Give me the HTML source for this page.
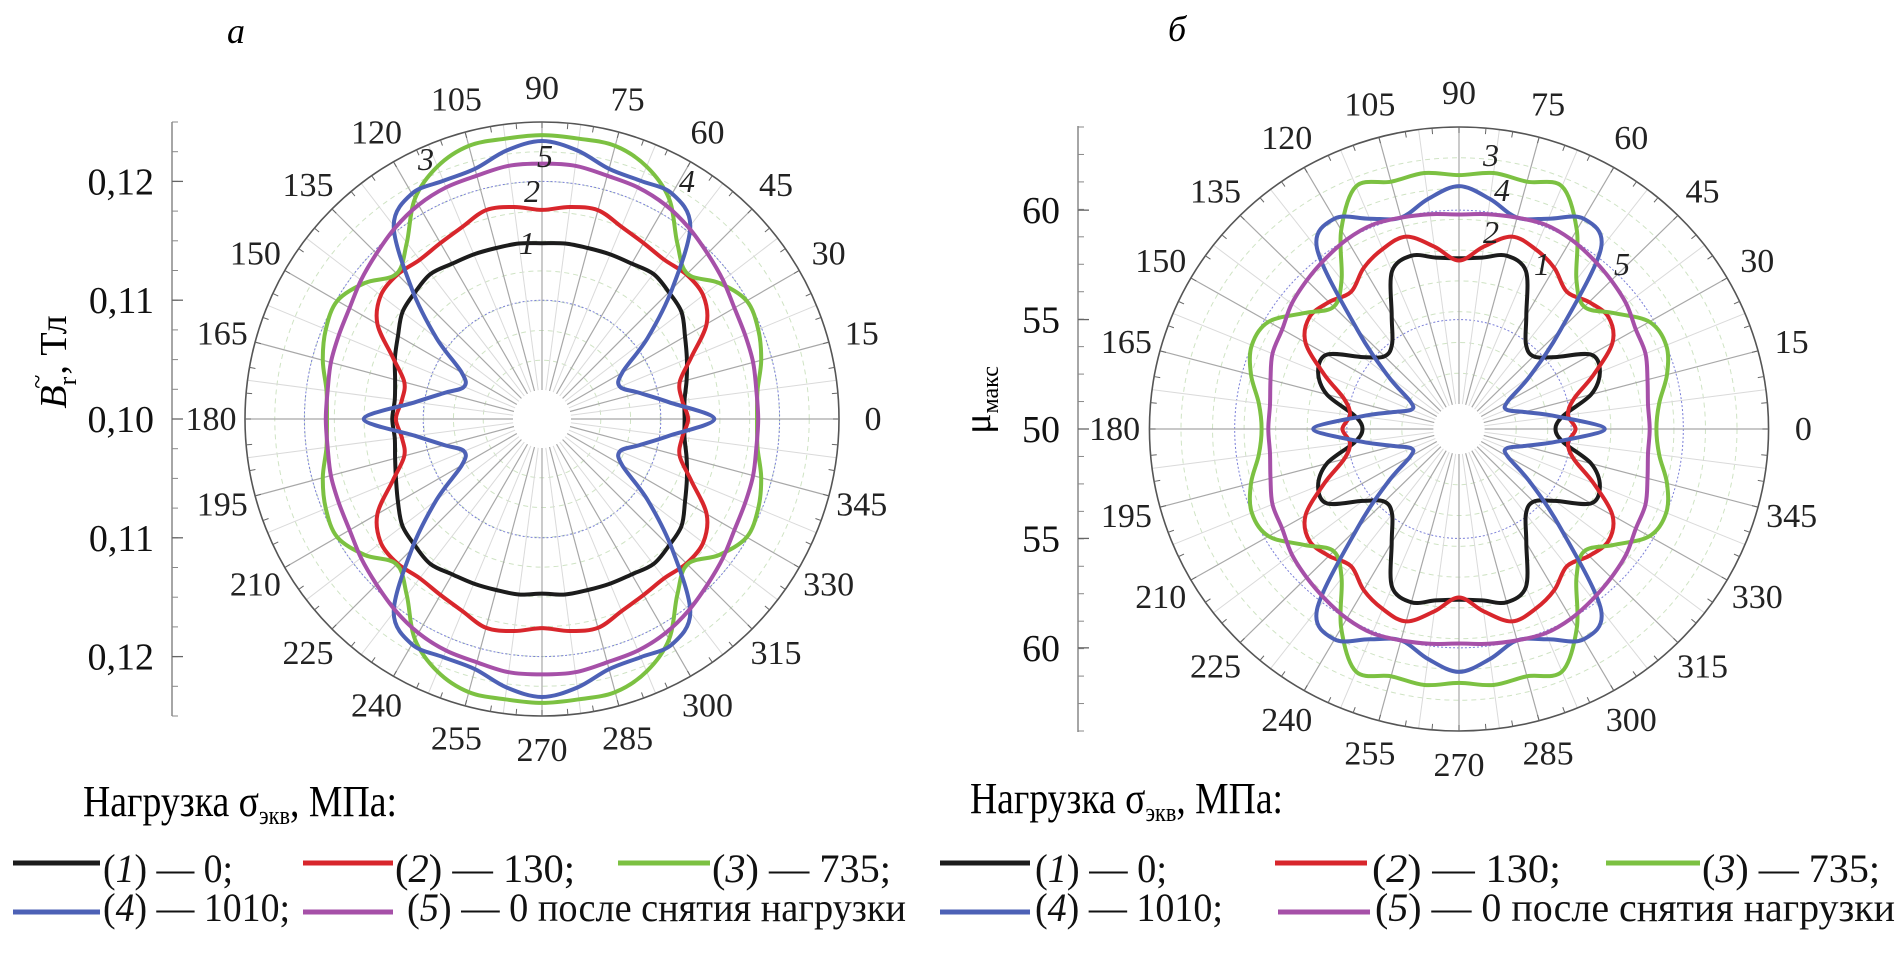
<!DOCTYPE html>
<html><head><meta charset="utf-8"><style>
html,body{margin:0;padding:0;background:#fff;}
svg{display:block;font-family:"Liberation Serif","DejaVu Serif",serif;}
svg text{font-family:"Liberation Serif","DejaVu Serif",serif;}
</style></head><body>
<svg id="fig" width="1898" height="971" viewBox="0 0 1898 971" xmlns="http://www.w3.org/2000/svg" font-family="Liberation Serif, serif">
<text x="236" y="43" font-size="36" font-style="italic" text-anchor="middle">а</text>
<text x="1177" y="41" font-size="36" font-style="italic" text-anchor="middle">б</text>
<g id="chartA"></g>
<g id="chartB"></g>
<text transform="translate(66,362) rotate(-90)" font-size="38" text-anchor="middle"><tspan font-style="italic">B</tspan><tspan font-size="26" dy="10">r</tspan><tspan font-size="26" dx="-12" dy="-30">~</tspan><tspan dy="20">, Тл</tspan></text>
<text transform="translate(990,400) rotate(-90)" font-size="38" text-anchor="middle">μ<tspan font-size="24" dy="8">макс</tspan></text>
<g id="legend">
<text x="83" y="816" font-size="44" textLength="314" lengthAdjust="spacingAndGlyphs">Нагрузка σ<tspan font-size="26" dy="8">экв</tspan><tspan dy="-8">, МПа:</tspan></text>
<text x="970" y="813" font-size="44" textLength="313" lengthAdjust="spacingAndGlyphs">Нагрузка σ<tspan font-size="26" dy="8">экв</tspan><tspan dy="-8">, МПа:</tspan></text>
</g>
</svg>
<script>
// ---- data ----
const anglesDeg = [0,7.5,15,22.5,30,37.5,45,52.5,60,67.5,75,82.5,90,97.5,105,112.5,120,127.5,135,142.5,150,157.5,165,172.5,180,187.5,195,202.5,210,217.5,225,232.5,240,247.5,255,262.5,270,277.5,285,292.5,300,307.5,315,322.5,330,337.5,345,352.5];
const angleLabels = [0,15,30,45,60,75,90,105,120,135,150,165,180,195,210,225,240,255,270,285,300,315,330,345];
// panel a: B_r, Тл
const a1 = [0.1120,0.1121,0.1126,0.1132,0.1139,0.1148,0.1151,0.1154,0.1151,0.1150,0.1149,0.1149,0.1148,0.1149,0.1149,0.1150,0.1151,0.1154,0.1151,0.1148,0.1140,0.1134,0.1128,0.1125,0.1126,0.1125,0.1128,0.1133,0.1140,0.1148,0.1151,0.1154,0.1151,0.1150,0.1149,0.1149,0.1147,0.1149,0.1149,0.1150,0.1151,0.1154,0.1151,0.1148,0.1139,0.1132,0.1126,0.1121];
const a2 = [0.1123,0.1119,0.1120,0.1136,0.1160,0.1171,0.1172,0.1169,0.1171,0.1175,0.1182,0.1180,0.1176,0.1180,0.1182,0.1175,0.1171,0.1169,0.1172,0.1171,0.1160,0.1136,0.1120,0.1119,0.1123,0.1119,0.1120,0.1136,0.1160,0.1171,0.1172,0.1169,0.1171,0.1175,0.1182,0.1180,0.1176,0.1180,0.1182,0.1175,0.1171,0.1169,0.1172,0.1171,0.1160,0.1136,0.1120,0.1119];
const a3 = [0.1181,0.1183,0.1191,0.1197,0.1199,0.1188,0.1173,0.1187,0.1214,0.1230,0.1238,0.1238,0.1239,0.1238,0.1238,0.1230,0.1214,0.1187,0.1173,0.1188,0.1199,0.1197,0.1191,0.1183,0.1181,0.1183,0.1191,0.1197,0.1199,0.1188,0.1173,0.1187,0.1214,0.1230,0.1238,0.1238,0.1239,0.1238,0.1238,0.1230,0.1214,0.1187,0.1173,0.1188,0.1199,0.1197,0.1191,0.1183];
const a4 = [0.1145,0.1108,0.1085,0.1071,0.1078,0.1112,0.1155,0.1205,0.1219,0.1217,0.1218,0.1228,0.1234,0.1228,0.1218,0.1217,0.1219,0.1205,0.1155,0.1112,0.1078,0.1071,0.1085,0.1108,0.1150,0.1108,0.1085,0.1071,0.1078,0.1112,0.1155,0.1205,0.1219,0.1217,0.1218,0.1228,0.1234,0.1228,0.1218,0.1217,0.1219,0.1205,0.1155,0.1112,0.1078,0.1071,0.1085,0.1108];
const a5 = [0.1182,0.1182,0.1184,0.1185,0.1187,0.1192,0.1197,0.1203,0.1208,0.1211,0.1212,0.1215,0.1215,0.1215,0.1212,0.1211,0.1208,0.1203,0.1197,0.1192,0.1187,0.1185,0.1184,0.1182,0.1182,0.1182,0.1184,0.1185,0.1187,0.1192,0.1197,0.1203,0.1208,0.1211,0.1212,0.1215,0.1215,0.1215,0.1212,0.1211,0.1208,0.1203,0.1197,0.1192,0.1187,0.1185,0.1184,0.1182];
const aTickValues = [0.12,0.11,0.10,0.11,0.12];
const aTickSide = [1,1,0,-1,-1];
const aTickLabels = ["0,12","0,11","0,10","0,11","0,12"];
// panel b: μ_max
const b1 = [54.3,54.7,56.1,56.8,56.8,55.4,54.7,54.9,56.0,57.8,58.2,57.9,57.8,57.9,58.2,57.8,56.0,54.9,54.7,55.4,56.8,56.8,56.1,54.7,54.3,54.7,56.1,56.8,56.8,55.4,54.7,54.9,56.0,57.8,58.2,57.9,57.8,57.9,58.2,57.8,56.0,54.9,54.7,55.4,56.8,56.8,56.1,54.7];
const b2 = [55.2,54.9,55.3,56.5,57.9,58.4,58.2,57.9,58.5,58.9,59.1,58.4,57.7,58.4,59.1,58.9,58.5,57.9,58.2,58.4,57.9,56.5,55.3,54.9,55.2,54.9,55.3,56.5,57.9,58.4,58.2,57.9,58.5,58.9,59.1,58.4,57.7,58.4,59.1,58.9,58.5,57.9,58.2,58.4,57.9,56.5,55.3,54.9];
const b3 = [58.8,59.0,59.6,60.0,59.8,58.7,57.9,58.6,60.5,62.0,61.7,61.8,61.6,61.8,61.7,62.0,60.5,58.6,57.9,58.7,59.8,60.0,59.6,59.0,58.8,59.0,59.6,60.0,59.8,58.7,57.9,58.6,60.5,62.0,61.7,61.8,61.6,61.8,61.7,62.0,60.5,58.6,57.9,58.7,59.8,60.0,59.6,59.0];
const b4 = [56.5,54.4,53.0,52.3,52.5,54.0,56.4,60.4,61.1,60.4,60.0,60.6,61.1,60.6,60.0,60.4,61.1,60.4,56.4,54.0,52.5,52.3,53.0,54.4,56.5,54.4,53.0,52.3,52.5,54.0,56.4,60.4,61.1,60.4,60.0,60.6,61.1,60.6,60.0,60.4,61.1,60.4,56.4,54.0,52.5,52.3,53.0,54.4];
const b5 = [58.5,58.5,58.7,59.0,59.1,59.4,59.6,59.8,60.0,60.1,60.0,59.9,59.8,59.9,60.0,60.1,60.0,59.8,59.6,59.4,59.1,59.0,58.7,58.5,58.5,58.5,58.7,59.0,59.1,59.4,59.6,59.8,60.0,60.1,60.0,59.9,59.8,59.9,60.0,60.1,60.0,59.8,59.6,59.4,59.1,59.0,58.7,58.5];
const bTickValues = [60,55,50,55,60];
const bTickSide = [1,1,0,-1,-1];
const bTickLabels = ["60","55","50","55","60"];
const seriesColors = ["#1c1c1c","#d8262c","#7cc142","#4d61b6","#a650a8"];
const legendLabels = ["1","2","3","4","5"];
const legendValues = ["0;","130;","735;","1010;","0 после снятия нагрузки"];

const NS = "http://www.w3.org/2000/svg";
function mk(tag, attrs, parent){
  const e = document.createElementNS(NS, tag);
  for (const k in attrs) e.setAttribute(k, attrs[k]);
  if (parent) parent.appendChild(e);
  return e;
}
function closedPath(pts){
  const n = pts.length; let d = "M" + pts[0][0].toFixed(1) + "," + pts[0][1].toFixed(1);
  for (let i=0;i<n;i++){
    const p0=pts[(i-1+n)%n], p1=pts[i], p2=pts[(i+1)%n], p3=pts[(i+2)%n];
    const c1=[p1[0]+(p2[0]-p0[0])/6, p1[1]+(p2[1]-p0[1])/6];
    const c2=[p2[0]-(p3[0]-p1[0])/6, p2[1]-(p3[1]-p1[1])/6];
    d += "C"+c1[0].toFixed(1)+","+c1[1].toFixed(1)+" "+c2[0].toFixed(1)+","+c2[1].toFixed(1)+" "+p2[0].toFixed(1)+","+p2[1].toFixed(1);
  }
  return d+"Z";
}
function drawPolar(g, cfg, series, tickValues, tickSide, tickLabels, curveLabels){
  const rScale = v => (v - cfg.vmin) / (cfg.vmax - cfg.vmin) * cfg.R;
  const pt = (deg, r) => [cfg.cx + r*cfg.sx*Math.cos(deg*Math.PI/180), cfg.cy - r*Math.sin(deg*Math.PI/180)];
  for (let i=1;i<=cfg.gridN;i++){
    const r = cfg.hole + (cfg.R-cfg.hole)*i/(cfg.gridN+1);
    const c = mk("ellipse",{cx:cfg.cx,cy:cfg.cy,rx:r*cfg.sx,ry:r,fill:"none",stroke:"#cfe3c4","stroke-width":1,"stroke-dasharray":"5,4"},g);
    
    
  }
  cfg.blueRings.forEach(v=>{
    const c = mk("ellipse",{cx:cfg.cx,cy:cfg.cy,rx:rScale(v)*cfg.sx,ry:rScale(v),fill:"none",stroke:"#7a7fd8","stroke-width":1,"stroke-dasharray":"2,2"},g);
    
    
  });
  for (let a=0;a<360;a+=7.5){
    const major = (a%15===0);
    const p1 = pt(a, cfg.hole), p2 = pt(a, cfg.R);
    const l = mk("line",{x1:p1[0],y1:p1[1],x2:p2[0],y2:p2[1],stroke:major?"#a8a8a8":"#dadada","stroke-width":major?1.2:1},g);
    
    
  }
  const oc = mk("ellipse",{cx:cfg.cx,cy:cfg.cy,rx:cfg.R*cfg.sx,ry:cfg.R,fill:"none",stroke:"#555","stroke-width":1.6},g);
  
  
  for (let a=0;a<360;a+=5){
    const p1 = pt(a, cfg.R-6), p2 = pt(a, cfg.R);
    const l = mk("line",{x1:p1[0],y1:p1[1],x2:p2[0],y2:p2[1],stroke:"#666","stroke-width":1},g);
    
    
  }
  series.forEach((vals, si)=>{
    const pts = vals.map((v,i)=>pt(anglesDeg[i], rScale(v)));
    const p = mk("path",{d:closedPath(pts),fill:"none",stroke:seriesColors[si],"stroke-width":4,"stroke-linejoin":"round"},g);
    
    
  });
  const hole = mk("circle",{cx:cfg.cx,cy:cfg.cy,r:cfg.hole,fill:"#fff"},g);
  
  
  angleLabels.forEach(a=>{
    const p = pt(a, cfg.labelR);
    const t = mk("text",{x:p[0],y:p[1]+11,"font-size":34,"text-anchor":"middle",fill:"#222"},g);
    t.textContent = String(a);
    
    
  });
  const ax = mk("line",{x1:cfg.axisX,y1:cfg.cy-cfg.axisHalf,x2:cfg.axisX,y2:cfg.cy+cfg.axisHalf,stroke:"#777","stroke-width":1.3},g);
  
  
  const step = (cfg.R)/cfg.minorPerAxis;
  for (let y=-cfg.axisHalf+ (cfg.axisHalf%step); y<=cfg.axisHalf; y+=step){
    const l = mk("line",{x1:cfg.axisX,y1:cfg.cy+y,x2:cfg.axisX+6,y2:cfg.cy+y,stroke:"#888","stroke-width":1},g);
    
    
  }
  tickValues.forEach((v,i)=>{
    const y = cfg.cy - tickSide[i]*rScale(v);
    const l = mk("line",{x1:cfg.axisX,y1:y,x2:cfg.axisX+11,y2:y,stroke:"#666","stroke-width":1.3},g);
    
    
    const t = mk("text",{x:cfg.axisX-18,y:y+13,"font-size":38,"text-anchor":"end",fill:"#111"},g);
    t.textContent = tickLabels[i];
    
    
  });
  curveLabels.forEach(c=>{
    const t = mk("text",{x:c[1],y:c[2],"font-size":32,"font-style":"italic","text-anchor":"middle",fill:"#222"},g);
    t.textContent = c[0];
    
    
  });
}
drawPolar(document.getElementById("chartA"),
  {cx:542,cy:419,R:297,sx:1,vmin:0.10,vmax:0.125,hole:29,gridN:8,blueRings:[0.11,0.12],labelR:331,axisX:172,axisHalf:297,minorPerAxis:10},
  [a1,a2,a3,a4,a5], aTickValues, aTickSide, aTickLabels,
  [["1",527,254],["2",532,202],["3",426,170],["5",545,167],["4",687,192]]);
drawPolar(document.getElementById("chartB"),
  {cx:1459,cy:429,R:302,sx:1.025,vmin:50,vmax:63.8,hole:25,gridN:8,blueRings:[55,60],labelR:336,axisX:1078,axisHalf:303,minorPerAxis:11},
  [b1,b2,b3,b4,b5], bTickValues, bTickSide, bTickLabels,
  [["3",1491,166],["4",1502,201],["2",1491,243],["1",1542,275],["5",1622,275]]);

const legendG = document.getElementById("legend");
const legendLayout = [
  [13,100,863,103,882,130,0],[303,393,863,395,882,180,1],[618,710,863,712,882,179,2],
  [13,100,912,103,921,187,3],[303,393,912,407,921,499,4],
  [940,1030,863,1035,882,132,0],[1275,1367,863,1372,882,189,1],[1606,1700,863,1702,882,178,2],
  [940,1030,912,1035,921,188,3],[1278,1370,912,1375,921,520,4]
];
legendLayout.forEach(L=>{
  const si = L[6];
  const ln = mk("line",{x1:L[0],y1:L[2],x2:L[1],y2:L[2],stroke:seriesColors[si],"stroke-width":5},legendG);
  
  
  const t = mk("text",{x:L[3],y:L[4],"font-size":40,textLength:L[5],lengthAdjust:"spacingAndGlyphs",fill:"#111"},legendG);
  
  
  const a = mk("tspan",{},t); a.textContent="(";
  const b = mk("tspan",{"font-style":"italic"},t); b.textContent=legendLabels[si];
  const c = mk("tspan",{},t); c.textContent=") — "+legendValues[si];
});
</script>
</body></html>
